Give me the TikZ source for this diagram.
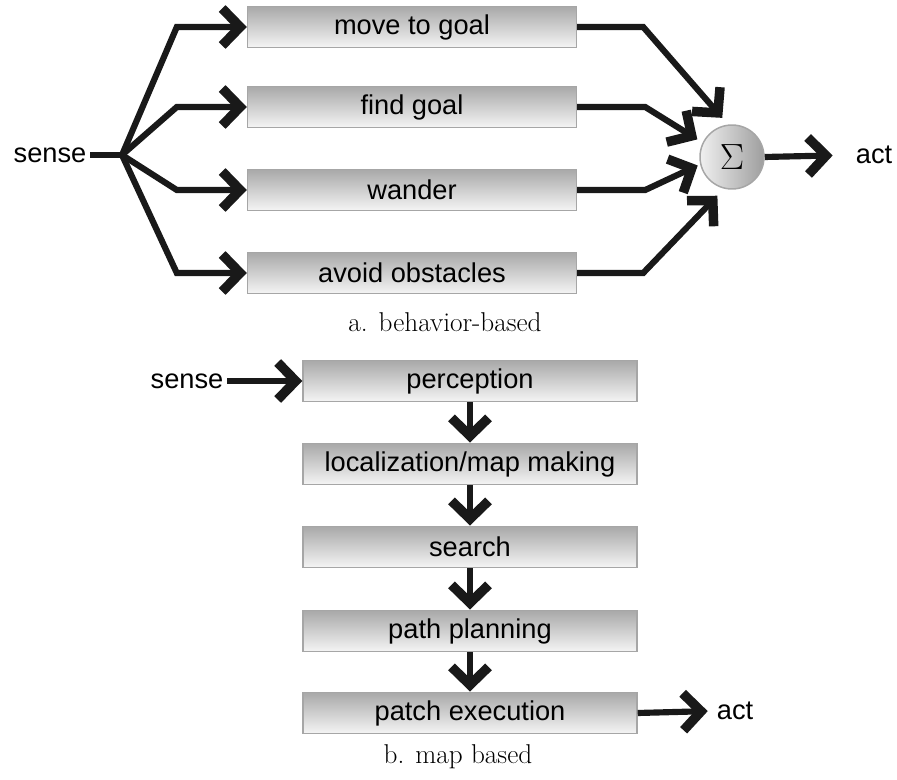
\documentclass[tikz,border=0pt]{standalone}
\usepackage{fontspec}
\setsansfont{Liberation Sans}
\usetikzlibrary{arrows.meta,positioning}

\tikzset{
  blk/.style={draw=black!35,line width=0.85pt,top color=black!34,bottom color=black!4,
    minimum height=0.83cm,inner sep=0pt,font=\sffamily\fontsize{15.5}{18}\selectfont},
  lbl/.style={inner sep=2pt,font=\sffamily\fontsize{15.5}{18}\selectfont},
  capt/.style={font=\fontsize{15.5}{18}\selectfont},
  wire/.style={line width=3.5pt,black!90,line join=miter},
  arr/.style={wire,-{Straight Barb[length=3.6mm,width=7.4mm,line width=5.4pt]}},
}

\begin{document}
\begin{tikzpicture}[x=0.02cm,y=-0.02cm]
  \useasboundingbox (0,0) rectangle (897,780);

  % behaviour layers, all fed from one sense line
  \node[lbl] (sense) at (50,155) {sense};
  \coordinate (fork) at (122,155);
  \foreach \nm/\yy/\txt in {mg/27/move to goal, fg/107/find goal, wa/190/wander, ao/273/avoid obstacles}
    \node[blk,minimum width=6.58cm] (\nm) at (412,\yy) {\txt};

  \node[circle,draw=black!35,line width=0.85pt,left color=black!6,right color=black!38,
        minimum size=1.28cm,inner sep=0pt,font=\fontsize{22}{24}\selectfont] (sum) at (732,157) {$\Sigma$};
  \node[lbl,anchor=west] (act) at (852,155) {act};

  \draw[wire] (sense.east) -- (fork);
  \foreach \nm in {mg,fg,wa,ao}
    \draw[arr] (fork) -- ([xshift=-1.4cm]\nm.west) -- (\nm.west);

  \draw[arr,shorten >=5pt] (mg.east) -- ++(66,0) -- (sum.97);
  \draw[arr,shorten >=3.5pt] (fg.east) -- ++(68,0) -- (sum.154);
  \draw[arr,shorten >=1.5pt] (wa.east) -- ++(68,0) -- (sum.193);
  \draw[arr,shorten >=5.5pt] (ao.east) -- ++(66,0) -- (sum.256);
  \draw[arr,shorten >=11pt] (sum.east) -- (act.west);

  \node[capt] (capa) at (445,322) {a. behavior-based};

  % sequential pipeline
  \node[lbl] (sense2) at (187,381) {sense};
  \foreach \nm/\yy/\txt in {pc/381/perception, lm/464/{localization/map making}, se/547/search,
                           pp/631/path planning, px/713/patch execution}
    \node[blk,minimum width=6.68cm] (\nm) at (470,\yy) {\txt};
  \node[lbl,anchor=west] (act2) at (713,711) {act};

  \draw[arr] (sense2.east) -- (pc.west);
  \draw[arr] (pc.south) -- (lm.north);
  \draw[arr] (lm.south) -- (se.north);
  \draw[arr] (se.south) -- (pp.north);
  \draw[arr] (pp.south) -- (px.north);
  \draw[arr,shorten >=3pt] (px.east) -- (act2.west);

  \node[capt] (capb) at (458,757) {b. map based};
\end{tikzpicture}
\end{document}
